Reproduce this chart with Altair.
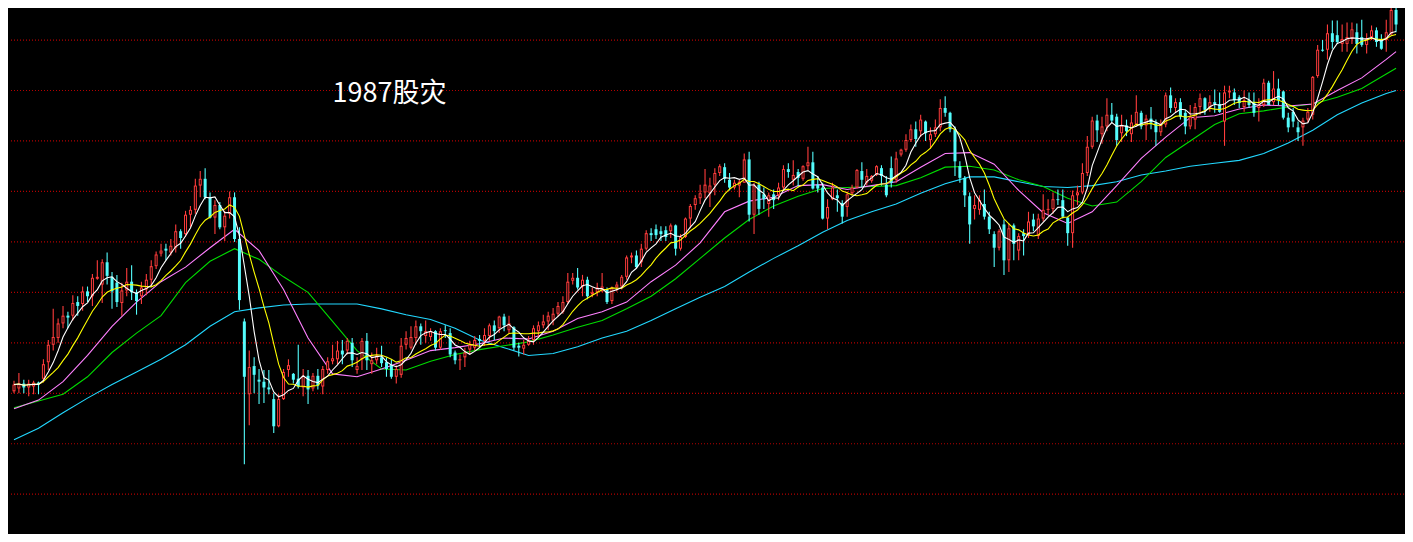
import altair as alt
import pandas as pd

# ---- candle data (index points, one candle per trading day) ----
open_ = [605,608,613,609,610,614,618,635,653,660,
         675,683,683,697,695,708,703,721,715,738,
         723,717,696,709,718,707,703,710,720,734,
         747,752,748,753,770,767,787,792,817,824,
         805,784,797,774,788,805,762,677,602,631,
         617,615,609,597,569,597,627,623,618,609,
         621,608,621,610,627,636,638,647,647,655,
         627,638,657,633,637,640,635,632,620,622,
         653,650,660,672,662,661,667,650,668,665,
         645,637,640,648,650,659,657,662,673,670,
         682,668,671,652,649,653,658,667,673,677,
         678,685,687,697,719,722,713,720,705,707,
         708,710,698,712,713,723,743,745,738,752,
         768,772,770,771,770,776,752,764,783,797,
         804,810,809,818,830,836,823,815,817,820,
         844,787,818,808,798,808,807,815,834,823,
         831,824,837,841,818,815,783,803,807,799,
         795,809,815,832,820,822,828,835,818,835,
         823,849,854,864,875,873,883,864,870,877,
         897,892,875,837,825,806,793,792,798,785,
         767,753,777,740,776,750,768,766,782,765,
         783,792,793,803,802,784,768,807,810,830,
         857,884,870,878,890,888,871,879,870,880,
         892,879,886,882,872,880,910,897,903,892,
         878,885,898,907,897,903,901,883,913,913,
         908,898,905,903,897,900,923,903,917,914,
         887,893,877,877,885,890,930,957,957,974,
         972,963,963,968,975,970,962,970,977,968,
         967,973,998]
high = [616,624,617,617,616,615,638,658,690,680,
        693,687,704,703,713,713,726,740,741,748,
        728,725,717,732,735,710,718,726,740,749,
        757,757,762,777,772,791,796,824,832,835,
        810,802,800,791,811,810,774,680,647,640,
        628,627,627,603,602,628,638,624,653,628,
        627,624,628,631,640,653,657,658,660,660,
        640,660,665,645,650,652,640,638,632,660,
        667,672,678,675,678,670,668,670,673,670,
        647,643,650,657,662,663,670,675,678,683,
        685,683,672,655,658,662,673,677,684,687,
        691,697,703,727,727,732,725,723,712,717,
        727,712,713,718,725,745,748,750,757,771,
        773,777,775,775,778,777,767,784,798,807,
        818,834,825,835,839,840,830,823,823,850,
        852,820,821,815,810,813,820,838,840,843,
        834,838,857,852,827,820,803,820,813,802,
        811,818,834,841,834,828,838,838,827,847,
        852,855,870,880,883,890,884,877,885,906,
        909,893,878,842,827,810,807,807,813,790,
        770,772,782,778,778,768,772,790,788,788,
        808,803,810,813,813,785,812,817,840,868,
        888,890,888,907,902,891,890,885,890,910,
        894,890,898,885,885,913,918,907,907,895,
        900,902,912,908,910,916,913,920,920,917,
        910,915,913,913,907,927,925,935,927,915,
        892,897,883,887,897,930,962,967,983,987,
        987,983,985,985,984,988,974,982,980,973,
        988,1005,1005]
low = [603,603,603,600,602,602,614,627,647,655,
       670,670,678,683,688,697,693,720,696,715,
       690,692,683,703,699,684,695,704,713,731,
       744,740,745,748,752,764,774,788,805,803,
       783,767,772,760,783,759,689,530,570,603,
       592,593,602,562,568,596,620,613,608,600,
       592,605,607,602,623,633,633,633,643,630,
       623,627,627,623,633,630,620,618,613,619,
       648,648,653,653,655,657,647,648,660,640,
       633,627,630,643,647,650,652,657,658,665,
       667,665,647,641,643,652,653,660,670,668,
       673,682,685,695,715,710,703,700,702,703,
       707,695,695,708,710,720,737,732,733,750,
       760,762,760,760,763,745,750,763,773,792,
       798,804,795,807,827,820,812,813,805,820,
       780,767,787,793,785,793,802,812,825,817,
       815,822,833,813,810,782,772,802,790,778,
       785,807,814,815,817,820,827,817,805,815,
       820,847,852,862,857,867,863,855,867,873,
       888,872,827,820,795,757,782,787,782,767,
       733,750,725,728,740,740,745,763,770,762,
       780,787,788,797,783,755,753,797,808,827,
       855,862,860,873,882,858,862,868,862,878,
       875,864,875,858,868,877,892,892,885,870,
       875,875,890,890,893,892,892,858,907,900,
       897,893,897,888,883,898,900,900,900,885,
       872,877,863,858,882,885,928,955,947,958,
       963,955,955,963,953,960,953,967,960,957,
       955,972,975]
close = [612,613,609,613,614,612,633,653,661,675,
         683,681,696,693,708,703,722,723,738,724,
         708,697,709,718,707,698,712,720,734,746,
         750,750,755,770,763,787,792,817,824,805,
         784,797,774,786,805,762,699,620,630,622,
         615,609,607,569,597,625,632,617,610,621,
         607,621,611,628,636,639,647,643,657,637,
         631,657,637,637,642,634,628,620,628,652,
         660,661,672,667,667,667,650,667,667,643,
         637,638,645,653,658,657,663,673,667,682,
         673,675,650,650,653,657,670,673,677,683,
         685,693,697,718,722,712,720,703,707,712,
         713,697,712,715,723,743,745,733,752,768,
         766,766,767,764,776,752,764,783,796,804,
         809,818,817,830,837,824,815,820,821,844,
         787,817,793,803,807,802,815,834,831,828,
         825,837,841,814,814,783,795,815,804,785,
         808,815,833,823,827,827,837,827,807,820,
         845,854,864,875,865,885,871,870,877,897,
         892,875,842,825,807,777,797,802,785,772,
         753,770,740,773,757,765,765,780,775,783,
         792,793,803,802,785,768,807,810,830,857,
         884,874,878,890,884,864,879,873,882,893,
         878,886,882,872,880,910,897,903,888,878,
         888,898,907,895,903,901,893,913,915,905,
         902,905,900,892,900,923,900,917,905,887,
         877,883,872,884,893,929,957,956,974,965,
         965,968,970,978,963,962,968,977,965,958,
         975,998,983]

# ---- longer moving averages (every 5th day) ----
ma_day = list(range(0, 281, 5)) + [282]
ma20 = [587,596,615,642,672,697,718,733,753,772,
        750,710,660,623,620,628,637,647,650,654,
        660,659,667,680,687,697,718,735,758,790,
        801,805,817,818,813,817,821,836,850,851,
        839,812,789,778,790,817,845,867,887,889,
        896,900,899,901,915,928,947,955]
ma30 = [588,595,602,620,645,665,683,717,739,752,
        741,723,707,677,647,628,627,636,643,648,
        652,656,663,671,678,690,703,721,742,763,
        782,796,806,814,815,816,817,825,836,837,
        833,823,816,804,796,800,821,846,863,880,
        891,894,898,901,908,917,932,938]
ma60 = [555,567,583,598,612,625,638,653,672,687,
        691,694,695,695,695,690,684,679,670,658,
        650,642,644,651,660,667,678,690,702,713,
        728,742,755,769,781,790,798,809,819,826,
        826,821,816,815,817,821,828,832,837,840,
        843,850,861,874,890,902,912,915]

grid_levels = [967, 915, 863, 811, 759, 707, 655, 603, 551, 499]
label_text = "1987股灾"

UP_RED = "#ff3c3c"
DOWN_CYAN = "#54fcfc"

df = pd.DataFrame({"open": open_, "high": high, "low": low, "close": close})
df["day"] = range(len(df))
df["dir"] = ["up" if c >= o else "down" for o, c in zip(open_, close)]

ma_df = pd.DataFrame({"day": ma_day, "ma20": ma20, "ma30": ma30, "ma60": ma60})
grid_df = pd.DataFrame({"level": grid_levels})

xscale = alt.Scale(domain=[0, 282.6], nice=False, zero=False)
yscale = alt.Scale(domain=[458, 1000], nice=False, zero=False)

def X(field="day"):
    return alt.X(f"{field}:Q", scale=xscale, axis=None)

def Y(field):
    return alt.Y(f"{field}:Q", scale=yscale, axis=None)

color = alt.Color("dir:N", scale=alt.Scale(domain=["up", "down"], range=[UP_RED, DOWN_CYAN]), legend=None)

grid = alt.Chart(grid_df).mark_rule(color="#b40000", strokeDash=[1, 2], strokeWidth=1.2).encode(
    y=Y("level")
)

base = alt.Chart(df)
wicks = base.mark_rule(strokeWidth=1.1, clip=True).encode(
    x=X(), y=Y("low"), y2="high", color=color
)
bodies = base.mark_bar(size=3, clip=True).encode(
    x=X(), y=Y("open"), y2="close", color=color
)
hollow = base.transform_filter("datum.close - datum.open >= 3").mark_bar(
    size=1, color="black", yOffset=1, y2Offset=-1, clip=True
).encode(x=X(), y=Y("close"), y2="open")

ma5 = base.transform_window(ma5="mean(close)", frame=[-4, 0], sort=[{"field": "day"}]).mark_line(
    color="#ffffff", strokeWidth=1.1, clip=True
).encode(x=X(), y=Y("ma5"))
ma10 = base.transform_window(ma10="mean(close)", frame=[-9, 0], sort=[{"field": "day"}]).mark_line(
    color="#ffff00", strokeWidth=1.1, clip=True
).encode(x=X(), y=Y("ma10"))

mbase = alt.Chart(ma_df)
l20 = mbase.mark_line(color="#ff80ff", strokeWidth=1.1, clip=True).encode(x=X(), y=Y("ma20"))
l30 = mbase.mark_line(color="#00dc00", strokeWidth=1.1, clip=True).encode(x=X(), y=Y("ma30"))
l60 = mbase.mark_line(color="#22d8ff", strokeWidth=1.1, clip=True).encode(x=X(), y=Y("ma60"))

label = alt.Chart(pd.DataFrame({"t": [label_text]})).mark_text(
    align="left", baseline="middle", fontSize=27, font="Noto Sans CJK SC", color="white"
).encode(
    x=alt.X(datum=65, scale=xscale, axis=None),
    y=alt.Y(datum=911, scale=yscale, axis=None),
    text="t:N",
)

chart = alt.layer(grid, l60, l30, l20, wicks, bodies, hollow, ma10, ma5, label).properties(
    width=1397,
    height=526,
    background="black",
    padding=0,
    autosize=alt.AutoSizeParams(type="fit", contains="padding"),
).configure_view(strokeWidth=0)

chart.save("out.html", embed_options={"renderer": "svg", "actions": False})
